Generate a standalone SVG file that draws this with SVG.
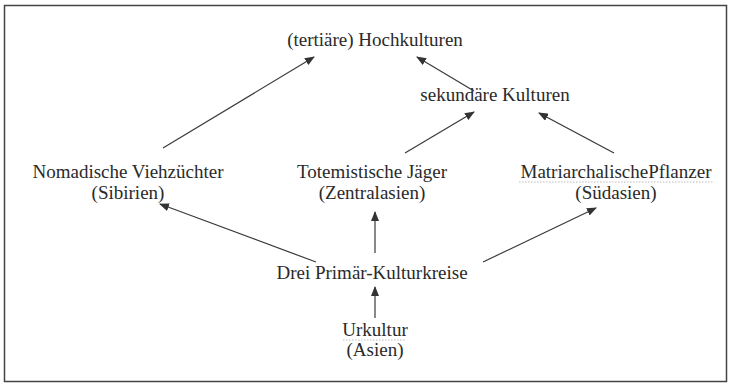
<svg xmlns="http://www.w3.org/2000/svg" width="730" height="387" viewBox="0 0 730 387">
<defs>
<marker id="ah" markerWidth="10" markerHeight="8" refX="9" refY="4" orient="auto" markerUnits="userSpaceOnUse">
<path d="M0,0 L10,4 L0,8 Z" fill="#333"/>
</marker>
<style>
text{font-family:"Liberation Serif","Times New Roman",serif;font-size:19px;fill:#2a2a2a;text-anchor:middle}
.c line{stroke:#3a3a3a;stroke-width:1.2;marker-end:url(#ah)}
</style>
</defs>
<rect x="0" y="0" width="730" height="387" fill="#ffffff"/>
<rect x="4.5" y="5.5" width="722" height="376" fill="none" stroke="#444" stroke-width="1.5"/>
<g id="hoch"><text x="375" y="46">(tertiäre) Hochkulturen</text></g>
<g id="sek"><text x="495" y="101">sekundäre Kulturen</text></g>
<g id="nomad"><text x="128" y="178">Nomadische Viehzüchter</text><text x="128" y="199">(Sibirien)</text></g>
<g id="totem"><text x="372" y="178">Totemistische Jäger</text><text x="372" y="199">(Zentralasien)</text></g>
<g id="matri"><text x="616" y="178">MatriarchalischePflanzer</text><text x="616" y="199">(Südasien)</text><line x1="519" y1="182" x2="713" y2="182" stroke="#bbb" stroke-width="1" stroke-dasharray="1.5,1.5"/></g>
<g id="drei"><text x="372" y="279">Drei Primär-Kulturkreise</text></g>
<g id="ur"><text x="375" y="336">Urkultur</text><text x="375" y="356">(Asien)</text><line x1="343" y1="340" x2="406" y2="340" stroke="#bbb" stroke-width="1" stroke-dasharray="1.5,1.5"/></g>
<g class="c" id="connectors">
<line x1="163" y1="148" x2="314" y2="57"/>
<line x1="474" y1="91" x2="417" y2="57"/>
<line x1="405" y1="153" x2="474" y2="112"/>
<line x1="614" y1="153" x2="539" y2="113"/>
<line x1="316" y1="262" x2="160" y2="204"/>
<line x1="375" y1="253" x2="375" y2="212"/>
<line x1="483" y1="262" x2="596" y2="208"/>
<line x1="375" y1="318" x2="375" y2="287"/>
</g>
</svg>
